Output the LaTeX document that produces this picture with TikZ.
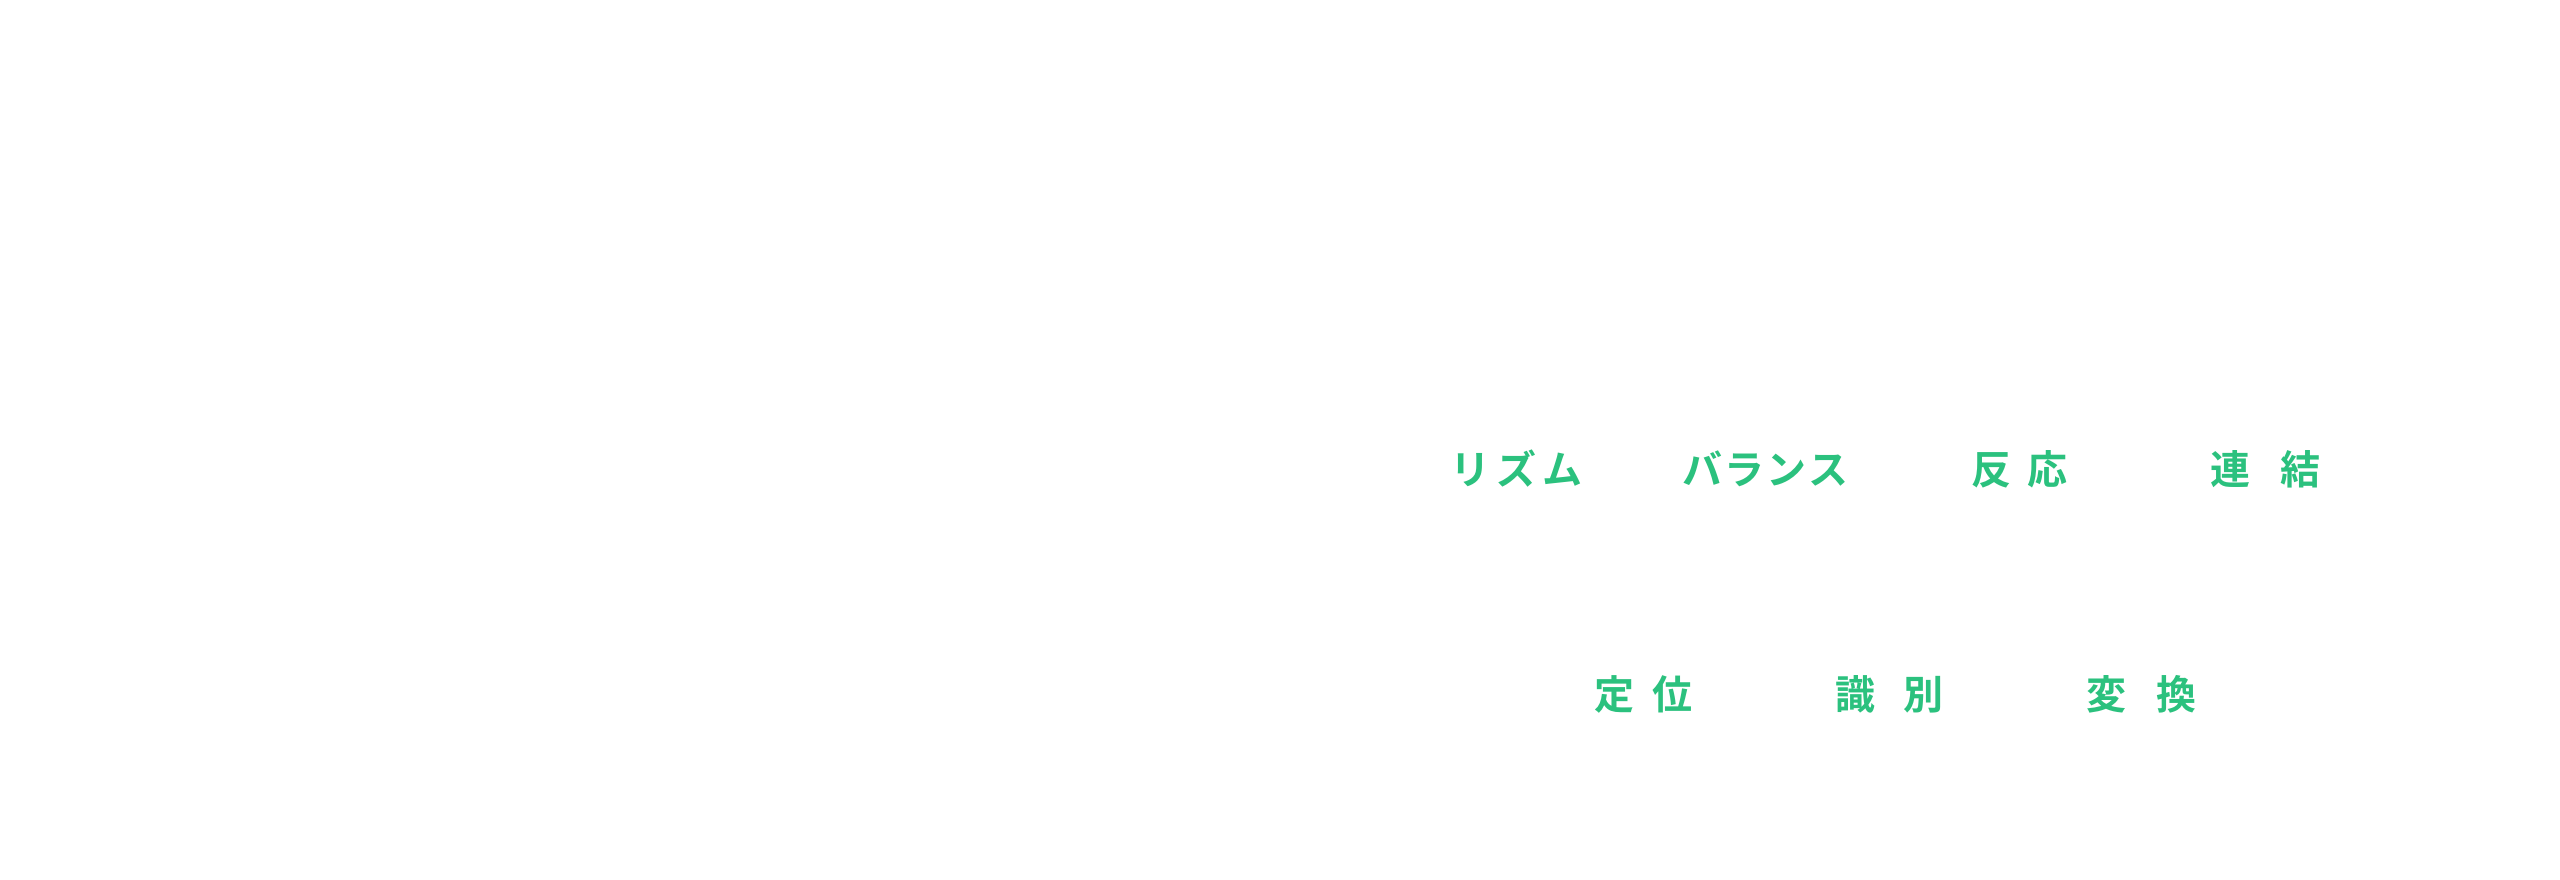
\documentclass[tikz,border=0pt]{standalone}
\usepackage{fontspec}
\newfontfamily\jpfont{Noto Sans CJK JP Bold}
\definecolor{leafgreen}{HTML}{2BC17E}
\begin{document}
\begin{tikzpicture}[
    x=1pt, y=1pt,
    % Style for the word labels
    word/.style={
        inner sep=0pt,
        text=leafgreen,
        font=\jpfont\fontsize{40}{40}\selectfont
    }
]
\useasboundingbox[fill=white] (0,0) rectangle (2560,880);

% 1. Top row
\node[word] (rhythm) at (1516,411) {リ\hspace{6pt}ズ\hspace{6pt}ム};
\node[word] (balance) at (1765,411) {バ\hspace{2pt}ラ\hspace{2pt}ン\hspace{2pt}ス};
\node[word] (reaction) at (2019,411) {反\hspace{16pt}応};
\node[word] (link) at (2265,411) {連\hspace{30pt}結};

% 2. Bottom row
\node[word] (position) at (1643,186) {定\hspace{18pt}位};
\node[word] (identify) at (1889,186) {識\hspace{28pt}別};
\node[word] (convert) at (2141,186) {変\hspace{30pt}換};

\end{tikzpicture}
\end{document}
